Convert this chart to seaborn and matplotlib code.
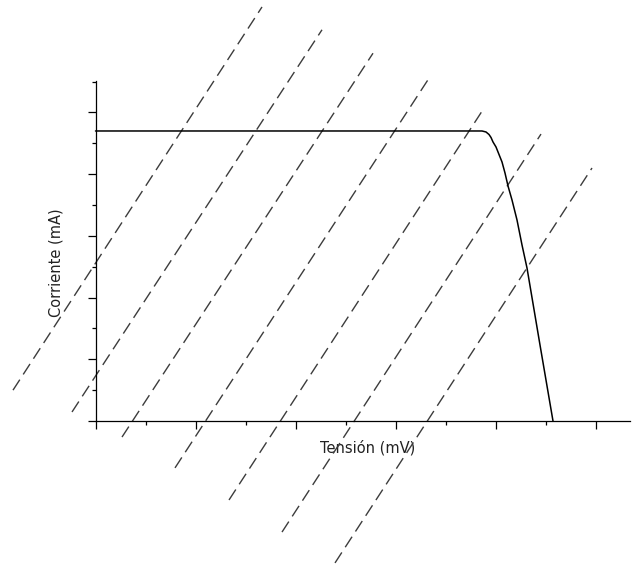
import matplotlib
matplotlib.use("Agg")
import matplotlib.pyplot as plt
import seaborn as sns
import pandas as pd
from matplotlib.ticker import MultipleLocator, NullFormatter

# I-V characteristic of the cell (voltage in major-tick units, current in major-tick units)
curve_v = [0.0, 3.865, 3.905, 3.935, 3.955, 3.975, 4.005, 4.025, 4.065, 4.095,
           4.125, 4.165, 4.215, 4.265, 4.315, 4.445, 4.575]
curve_i = [4.70, 4.70, 4.684, 4.643, 4.595, 4.522, 4.441, 4.360, 4.198, 4.019,
           3.809, 3.582, 3.258, 2.853, 2.480, 1.232, 0.0]

# Parallel load lines: lower and upper end points of each dashed segment
load_v_lo = [-0.825, -0.235, 0.265, 0.795, 1.335, 1.865, 2.395]
load_i_lo = [0.50, 0.146, -0.26, -0.76, -1.28, -1.80, -2.30]
load_v_hi = [1.665, 2.265, 2.775, 3.345, 3.885, 4.455, 4.965]
load_i_hi = [6.71, 6.34, 5.96, 5.58, 5.07, 4.65, 4.10]

x_label = "Tensión (mV)"
y_label = "Corriente (mA)"

sns.set_theme(style="white")
plt.rcParams["font.family"] = ["DejaVu Sans"]

fig = plt.figure(figsize=(6.35, 5.66), dpi=100)
ax = fig.add_axes([95.5 / 635, 1 - 421 / 566, 534.5 / 635, 340 / 566])

# dashed load lines, allowed to run outside the plotting area
for k in range(len(load_v_lo)):
    seg = pd.DataFrame({"v": [load_v_lo[k], load_v_hi[k]],
                        "i": [load_i_lo[k], load_i_hi[k]]})
    sns.lineplot(data=seg, x="v", y="i", ax=ax, color="#3c3c3c", lw=1.0,
                 linestyle=(0, (9, 4.5)), clip_on=False, sort=False,
                 estimator=None)

# characteristic curve
df = pd.DataFrame({"v": curve_v, "i": curve_i})
sns.lineplot(data=df, x="v", y="i", ax=ax, color="black", lw=1.1,
             sort=False, estimator=None, clip_on=False)

ax.set_xlim(0, 5.345)
ax.set_ylim(0, 5.51)

for side in ("top", "right"):
    ax.spines[side].set_visible(False)
for side in ("left", "bottom"):
    ax.spines[side].set_linewidth(0.9)
    ax.spines[side].set_color("black")

ax.xaxis.set_major_locator(MultipleLocator(1))
ax.xaxis.set_minor_locator(MultipleLocator(0.5))
ax.yaxis.set_major_locator(MultipleLocator(1))
ax.yaxis.set_minor_locator(MultipleLocator(0.5))
ax.xaxis.set_major_formatter(NullFormatter())
ax.yaxis.set_major_formatter(NullFormatter())
ax.tick_params(which="major", direction="out", length=5.5, width=0.9,
               color="black", bottom=True, left=True)
ax.tick_params(which="minor", direction="out", length=3, width=0.9,
               color="black", bottom=True, left=True)

ax.set_xlabel(x_label, fontsize=10.5, color="#222222")
ax.set_ylabel(y_label, fontsize=10.5, color="#222222")
ax.xaxis.label.set_va("center")
ax.yaxis.label.set_va("center")
ax.xaxis.set_label_coords((368 - 95.5) / 534.5, (421 - 448) / 340)
ax.yaxis.set_label_coords((56 - 95.5) / 534.5, (421 - 263) / 340)

fig.savefig("out.png", dpi=100, facecolor="white")
